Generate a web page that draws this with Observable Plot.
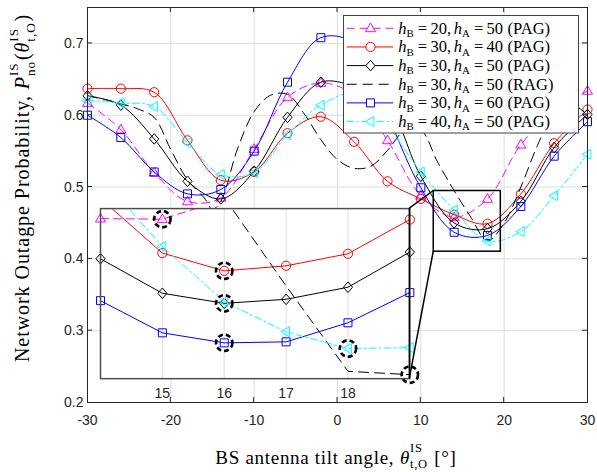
<!DOCTYPE html>
<html><head><meta charset="utf-8">
<script src="https://cdn.jsdelivr.net/npm/d3@7"></script>
<script src="https://cdn.jsdelivr.net/npm/@observablehq/plot@0.6"></script>
<style>
html,body{margin:0;padding:0;background:#fff;}
#chart{position:relative;width:597px;height:472px;}
</style></head>
<body><div id="chart"></div>
<script>
// ---------------- data ----------------
const tilt = [-30,-26,-22,-18,-14,-10,-6,-2,2,6,10,14,18,22,26,30];
const pag20_50 = [0.617,0.580,0.520,0.480,0.485,0.553,0.625,0.645,0.628,0.565,0.488,0.458,0.4835,0.559,0.605,0.634];
const pag30_40 = [0.637,0.637,0.632,0.565,0.5095,0.521,0.575,0.598,0.563,0.508,0.4835,0.4615,0.449,0.4905,0.561,0.608];
const pag30_50 = [0.627,0.614,0.567,0.508,0.4835,0.522,0.597,0.646,0.640,0.615,0.515,0.450,0.442,0.480,0.555,0.601];
const pag30_60 = [0.600,0.569,0.521,0.4905,0.4965,0.550,0.646,0.708,0.700,0.600,0.499,0.437,0.4326,0.473,0.543,0.591];
const pag40_50 = [0.621,0.617,0.612,0.562,0.5175,0.520,0.573,0.614,0.630,0.585,0.521,0.468,0.425,0.438,0.488,0.5455];
const ragTilt = [-30,-28,-26,-24,-22,-20,-18,-16,-15,-14,-12,-10,-8,-6,-4,-2,0,2,4,6,8,10,12,14,16,18,20,22,24,26,28,30];
const rag30_50 = [0.627,0.622,0.616,0.609,0.597,0.552,0.510,0.485,0.469,0.480,0.553,0.605,0.628,0.629,0.602,0.566,0.538,0.526,0.529,0.551,0.578,0.579,0.535,0.495,0.458,0.425,0.450,0.500,0.558,0.604,0.616,0.600];

// inset (zoomed) data, tilt 14..19
const zoomTilt = [14,15,16,17,18,19];
const zoomPag20_50 = [0.44569,0.44561,0.44838,null,null,null];
const zoomPag30_40 = [0.44852,0.44085,0.43835,0.43906,0.44075,0.44555];
const zoomPag30_50 = [0.44005,0.43520,0.43379,0.43435,0.43605,0.44099];
const zoomRag30_50 = [null,null,0.44866,0.43623,0.42423,0.42376];
const zoomPag30_60 = [0.43416,0.42964,0.42823,0.42837,0.43105,0.43529];
const zoomPag40_50 = [0.45154,0.44178,0.43402,0.42978,0.42744,0.42755];
const zoomYDomain = [0.4232,0.4471];
const zoomXTicks = [15,16,17,18];

const xTicks = [-30,-20,-10,0,10,20,30];
const yTicks = [0.2,0.3,0.4,0.5,0.6,0.7];
const zoomBox = [{x1:11.55, x2:19.6, y1:0.41, y2:0.4945}];
const insetBox = {x1:-28.44, x2:8.68, y1:0.2332, y2:0.47};

// ---------------- symbols ----------------
function sym(fn){ return {draw(c, size){ const s = Math.sqrt(size/Math.PI)/5; fn(c, s); }}; }
const triUp = sym((c,s)=>{c.moveTo(0,-5.3*s);c.lineTo(5*s,3.4*s);c.lineTo(-5*s,3.4*s);c.closePath();});
const triLeft = sym((c,s)=>{c.moveTo(-5.3*s,0);c.lineTo(3.4*s,-5*s);c.lineTo(3.4*s,5*s);c.closePath();});
const circ = sym((c,s)=>{const r=4.6*s;c.moveTo(r,0);c.arc(0,0,r,0,2*Math.PI);c.closePath();});
const sq = sym((c,s)=>{const h=4*s;c.moveTo(-h,-h);c.lineTo(h,-h);c.lineTo(h,h);c.lineTo(-h,h);c.closePath();});
const dia = sym((c,s)=>{c.moveTo(0,-5.3*s);c.lineTo(4.6*s,0);c.lineTo(0,5.3*s);c.lineTo(-4.6*s,0);c.closePath();});

const series = [
  {vals:pag20_50, zoom:zoomPag20_50, color:"#ff00ff", dash:"8,5", symbol:triUp, hB:"20", hA:"50", kind:"PAG"},
  {vals:pag30_40, zoom:zoomPag30_40, color:"#ff0000", dash:null, symbol:circ, hB:"30", hA:"40", kind:"PAG"},
  {vals:pag30_50, zoom:zoomPag30_50, color:"#000000", dash:null, symbol:dia, hB:"30", hA:"50", kind:"PAG"},
  {vals:rag30_50, tilt:ragTilt, zoom:zoomRag30_50, color:"#000000", dash:"10,6", symbol:null, hB:"30", hA:"50", kind:"RAG"},
  {vals:pag30_60, zoom:zoomPag30_60, color:"#0000ff", dash:null, symbol:sq, hB:"30", hA:"60", kind:"PAG"},
  {vals:pag40_50, zoom:zoomPag40_50, color:"#00ffff", dash:"7,3,2,3", symbol:triLeft, hB:"40", hA:"50", kind:"PAG"}
];

const SANS = "'Liberation Sans', Arial, Helvetica, sans-serif";
const SERIF = "'Liberation Serif', 'Times New Roman', serif";
const GRID = "#dddddd", AX = "#262626";

// ---------------- main plot ----------------
const marks = [
  Plot.ruleX(xTicks.slice(1,-1), {stroke:GRID}),
  Plot.ruleY(yTicks.slice(1), {stroke:GRID})
];
for (const s of series) {
  const t = s.tilt || tilt;
  const data = t.map((x,i)=>({x, y:s.vals[i]}));
  marks.push(Plot.line(data, {x:"x", y:"y", stroke:s.color, strokeWidth:1, strokeDasharray:s.dash || undefined, curve:"catmull-rom"}));
  if (s.symbol) marks.push(Plot.dot(data, {x:"x", y:"y", symbol:s.symbol, r:5, stroke:s.color, fill:"none", strokeWidth:1}));
}
marks.push(
  Plot.rect(zoomBox, {x1:"x1", x2:"x2", y1:"y1", y2:"y2", fill:"none", stroke:"black", strokeWidth:1.5}),
  Plot.frame({stroke:AX}),
  Plot.axisX({ticks:xTicks, tickSize:0, tickPadding:13, tickFormat:d=>String(d), label:null, fontSize:14}),
  Plot.axisY({ticks:yTicks, tickSize:0, tickPadding:4, tickFormat:d3.format(".1f"), label:null, fontSize:14})
);

const chart = Plot.plot({
  width:597, height:472,
  marginLeft:87, marginRight:10, marginTop:7, marginBottom:70,
  x:{domain:[-30,30]}, y:{domain:[0.2,0.75]},
  style:{background:"white", color:AX, fontFamily:SANS, fontSize:"14px"},
  marks
});
document.getElementById("chart").append(chart);
const xS = chart.scale("x"), yS = chart.scale("y");
const svg = d3.select(chart);

// inward ticks (MATLAB style)
const tk = svg.append("g").attr("stroke", AX).attr("stroke-width", 1);
const yB = yS.apply(0.2), yT = yS.apply(0.75), xL = xS.apply(-30), xR = xS.apply(30);
for (const v of xTicks.slice(1,-1)) {
  const x = xS.apply(v);
  tk.append("line").attr("x1",x).attr("x2",x).attr("y1",yB).attr("y2",yB-5);
  tk.append("line").attr("x1",x).attr("x2",x).attr("y1",yT).attr("y2",yT+5);
}
for (const v of yTicks.slice(1)) {
  const y = yS.apply(v);
  tk.append("line").attr("x1",xL).attr("x2",xL+5).attr("y1",y).attr("y2",y);
  tk.append("line").attr("x1",xR).attr("x2",xR-5).attr("y1",y).attr("y2",y);
}

// ---------------- inset ----------------
const ix0 = xS.apply(insetBox.x1), ix1 = xS.apply(insetBox.x2);
const iy0 = yS.apply(insetBox.y2), iy1 = yS.apply(insetBox.y1);
const iw = ix1 - ix0, ih = iy1 - iy0;
const imarks = [
  Plot.frame({fill:"white", stroke:"none"}),
  Plot.ruleX(zoomXTicks, {stroke:GRID})
];
const minima = [];
for (const s of series) {
  const data = zoomTilt.map((x,i)=>({x, y:s.zoom[i]}));
  imarks.push(Plot.line(data, {x:"x", y:"y", stroke:s.color, strokeWidth:1, strokeDasharray:s.dash || undefined, clip:true}));
  const inside = data.filter(d=>d.y!=null && d.y>=zoomYDomain[0] && d.y<=zoomYDomain[1]);
  if (s.symbol) imarks.push(Plot.dot(inside, {x:"x", y:"y", symbol:s.symbol, r:5, stroke:s.color, fill:"none", strokeWidth:1}));
  const def = data.filter(d=>d.y!=null);
  minima.push(def.reduce((a,b)=>b.y<a.y?b:a));
}
imarks.push(
  Plot.dot(minima, {x:"x", y:"y", r:8.2, fill:"none", stroke:"black", strokeWidth:2.6, strokeDasharray:"5,3"}),
  Plot.frame({stroke:"#4d4d4d", strokeWidth:1.5}),
  Plot.axisX({ticks:zoomXTicks, tickSize:0, tickPadding:9, tickFormat:d=>String(d), label:null, fontSize:14})
);
const inset = Plot.plot({
  width:iw, height:ih+24, marginLeft:0, marginRight:0, marginTop:0, marginBottom:24,
  x:{domain:[14,19]}, y:{domain:zoomYDomain, axis:null},
  style:{background:"transparent", color:AX, fontFamily:SANS, fontSize:"14px"},
  marks:imarks
});
const ig = svg.append("g").attr("transform", `translate(${ix0},${iy0})`).attr("font-family", SANS).attr("font-size", 14).attr("text-anchor","middle");
for (const n of Array.from(inset.childNodes)) { if (n.nodeName.toLowerCase() !== "style") ig.node().appendChild(n); }

// connectors
const cg = svg.append("g").attr("stroke","black").attr("stroke-width",1.5).attr("fill","none");
const zb = zoomBox[0];
cg.append("line").attr("x1", xS.apply(zb.x1)).attr("y1", yS.apply(zb.y2)).attr("x2", ix1).attr("y2", iy0);
cg.append("line").attr("x1", xS.apply(zb.x1)).attr("y1", yS.apply(zb.y1)).attr("x2", ix1).attr("y2", iy1);
cg.append("line").attr("x1", ix1).attr("y1", iy0).attr("x2", ix1).attr("y2", iy1);

// ---------------- text helper ----------------
function mathText(parent, parts, size, ls, supY = -0.42, subY = 0.28) {
  const g = parent.append("g").attr("font-family", SERIF).attr("fill", "#000").attr("text-anchor","start").attr("stroke","none");
  if (ls) g.attr("letter-spacing", ls);
  let x = 0;
  for (const p of parts) {
    if (p.gap != null) { x += p.gap*size; continue; }
    if (p.sup != null || p.sub != null) {
      let w = 0;
      if (p.sup != null) { const t = g.append("text").attr("x", x).attr("y", supY*size).attr("font-size", 0.66*size).text(p.sup); w = Math.max(w, t.node().getComputedTextLength()); }
      if (p.sub != null) { const t = g.append("text").attr("x", x).attr("y", (p.sup!=null?subY:0.2)*size).attr("font-size", 0.66*size).text(p.sub); w = Math.max(w, t.node().getComputedTextLength()); }
      x += w + 0.04*size; continue;
    }
    const t = g.append("text").attr("x", x).attr("font-size", size).text(p.t);
    if (p.it) t.attr("font-style", "italic");
    x += t.node().getComputedTextLength();
  }
  return {g, width:x};
}

// ---------------- legend ----------------
const LEG = {x:343.5, y:15.5, w:235, h:117.5, row0:28.3, step:18.65, lx0:346.7, lx1:393.3, mx:370.5, tx:398.3, size:16.5};
const lg = svg.append("g");
lg.append("rect").attr("x",LEG.x).attr("y",LEG.y).attr("width",LEG.w).attr("height",LEG.h).attr("fill","white").attr("stroke","#404040").attr("stroke-width",1);
series.forEach((s,i)=>{
  const y = LEG.row0 + i*LEG.step;
  lg.append("line").attr("x1",LEG.lx0).attr("x2",LEG.lx1).attr("y1",y).attr("y2",y)
    .attr("stroke",s.color).attr("stroke-width",1).attr("stroke-dasharray",s.dash||null);
  if (s.symbol) lg.append("path").attr("transform",`translate(${LEG.mx},${y})`)
    .attr("d", d3.symbol(s.symbol, 25*Math.PI)()).attr("fill","white").attr("stroke",s.color).attr("stroke-width",1);
  const m = mathText(lg, [{t:"h",it:1},{sub:"B"},{gap:0.2},{t:"="},{gap:0.2},{t:s.hB+","},{gap:0.17},{t:"h",it:1},{sub:"A"},{gap:0.2},{t:"="},{gap:0.2},{t:s.hA},{gap:0.28},{t:"("+s.kind+")"}], LEG.size, 0);
  m.g.attr("transform", `translate(${LEG.tx},${y+5.3})`);
});

// ---------------- axis labels ----------------
const xl = mathText(svg, [{t:"BS antenna tilt angle,"},{gap:0.3},{t:"θ",it:1},{sup:"IS",sub:"t,O"},{gap:0.3},{t:"[°]"}], 19, 0.7, -0.58, 0.24);
xl.g.attr("transform", `translate(${336 - xl.width/2},463.5)`);
const yl = mathText(svg, [{t:"Network Outagpe Probability,"},{gap:0.3},{t:"P",it:1},{sup:"IS",sub:"no"},{t:"("},{t:"θ",it:1},{sup:"IS",sub:"t,O"},{t:")"}], 20, 0.95, -0.55, 0.28);
yl.g.attr("transform", `translate(29,${188 + yl.width/2}) rotate(-90)`);
</script>
</body></html>
